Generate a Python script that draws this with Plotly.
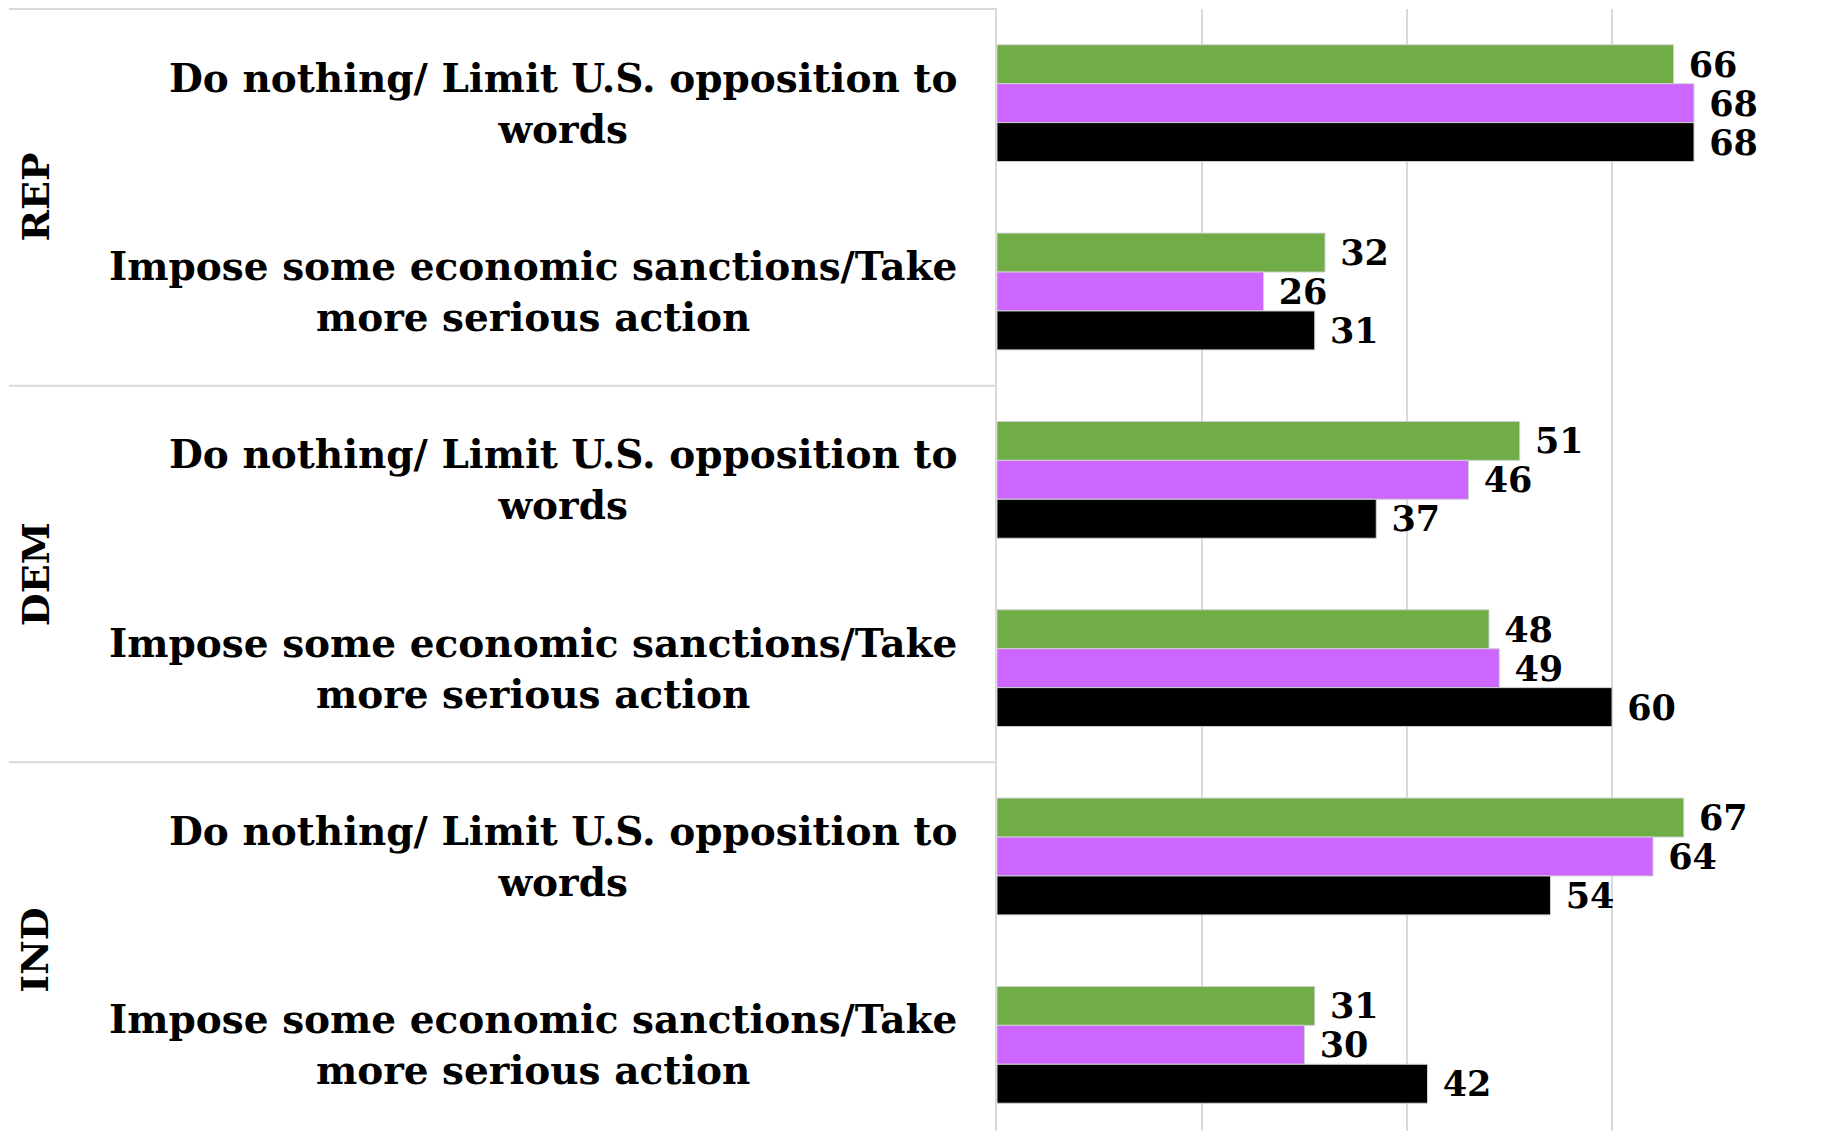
import plotly.graph_objects as go

groups = ["REP", "DEM", "IND"]
options = ["Do nothing/ Limit U.S. opposition to<br>words",
           "Impose some economic sanctions/Take<br>more serious action"]

# one value per row, rows go REP/DEM/IND x the two options
series_names = ["Series 1", "Series 2", "Series 3"]
green_vals = [66, 32, 51, 48, 67, 31]
purple_vals = [68, 26, 46, 49, 64, 30]
black_vals = [68, 31, 37, 60, 54, 42]
colors = ["#70AD47", "#CC66FF", "#000000"]

FONT = "Georgia, DejaVu Serif, serif"

row_labels = [o for g in groups for o in options]
rows = list(range(len(row_labels)))

fig = go.Figure()
for name, vals, col in zip(series_names, [green_vals, purple_vals, black_vals], colors):
    fig.add_trace(go.Bar(
        y=rows, x=vals, name=name, orientation="h",
        marker=dict(color=col, line=dict(color="#d0d0d0", width=1)),
        text=vals, texttemplate="\u00a0%{text}", textposition="outside", constraintext="none",
        textfont=dict(family=FONT, size=35, color="black", weight="bold"),
        cliponaxis=False,
    ))

# option labels, lines centered like the original
for r, lab in zip(rows, row_labels):
    fig.add_annotation(x=0, y=r, xref="paper", yref="y", text="<b>" + lab + "</b>",
                       showarrow=False, xanchor="right", yanchor="middle", align="center",
                       xshift=-38, font=dict(family=FONT, size=39, color="black"))

# group labels and dividers on the left
n = len(groups)
for i, g in enumerate(groups):
    fig.add_annotation(x=-1.173, y=i * len(options) + (len(options) - 1) / 2, xref="paper", yref="y",
                       text="<b>" + g + "</b>", textangle=-90, showarrow=False,
                       xanchor="center", yanchor="middle",
                       font=dict(family=FONT, size=38, color="black"))
for i in range(n + 1):
    yp = 1 - i / n
    fig.add_shape(type="line", xref="paper", yref="paper", x0=-1.205, x1=0, y0=yp, y1=yp,
                  line=dict(color="#d9d9d9", width=2))

# page body adds 8px, margins account for it
fig.update_layout(
    width=1825, height=1131,
    margin=dict(l=989, r=16, t=1, b=0),
    barmode="group", bargap=0.38, bargroupgap=0,
    plot_bgcolor="white", paper_bgcolor="white",
    showlegend=False,
    font=dict(family=FONT, color="black"),
)
fig.update_xaxes(range=[0, 80], dtick=20, showgrid=True, gridcolor="#d9d9d9", gridwidth=2,
                 zeroline=False, showticklabels=False, ticks="")
fig.update_yaxes(range=[len(rows) - 0.5, -0.5], showticklabels=False, showgrid=False,
                 zeroline=False, showline=True, linecolor="#d9d9d9", linewidth=2, ticks="")

fig.write_html("out.html")
